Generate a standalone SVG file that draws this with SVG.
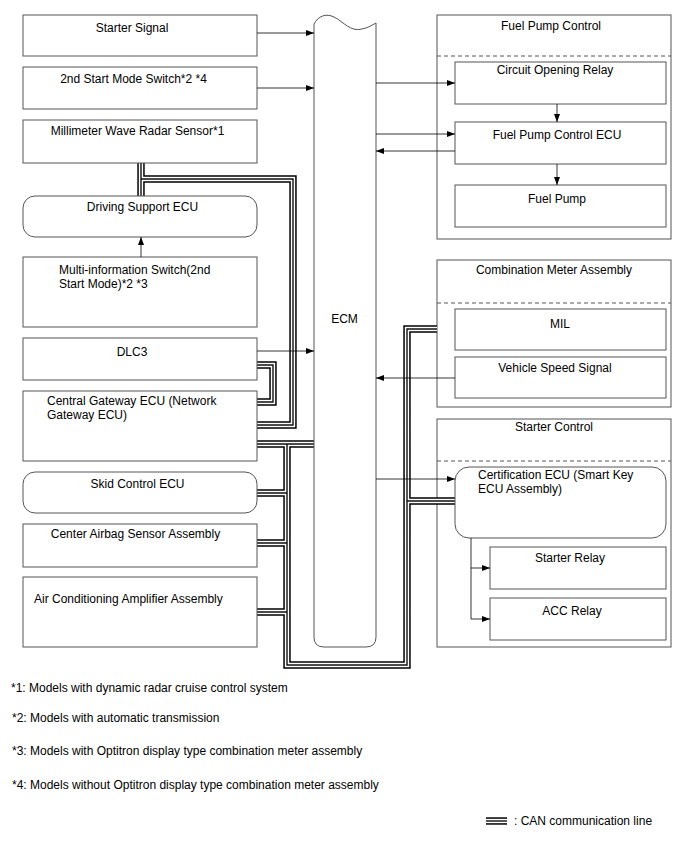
<svg xmlns="http://www.w3.org/2000/svg" width="688" height="852" viewBox="0 0 688 852">
<style>
  .box{fill:#fff;stroke:#555;stroke-width:1}
  .grp{fill:none;stroke:#555;stroke-width:1}
  .dash{fill:none;stroke:#555;stroke-width:1;stroke-dasharray:4,3}
  text{font-family:"Liberation Sans",Arial,sans-serif;font-size:12px;fill:#000}
  .c{text-anchor:middle}
  .note{font-size:12px}
  .arr{fill:none;stroke:#000;stroke-width:0.8;marker-end:url(#ah)}
  .ln{fill:none;stroke:#000;stroke-width:0.8}
  .can1{fill:none;stroke:#000;stroke-width:7.4;stroke-linejoin:miter}
  .can2{fill:none;stroke:#fff;stroke-width:4.4;stroke-linejoin:miter}
  .can3{fill:none;stroke:#111;stroke-width:1.4;stroke-linejoin:miter}
</style>
<defs>
  <marker id="ah" viewBox="0 0 8 6" refX="8" refY="3" markerWidth="8" markerHeight="6" markerUnits="userSpaceOnUse" orient="auto">
    <path d="M0,0 L8,3 L0,6 Z" fill="#000"/>
  </marker>
  <path id="canPaths" d="M141,163 V196 M141,179 H293 V425 H257 M257,365 H273 V402 H257 M257,444 H314 M287,444 V665 H407 V329 H437 M407,501 H455 M257,493 H287 M257,543 H287 M257,612 H287"/>
</defs>
<rect width="688" height="852" fill="#fff"/>

<!-- group containers -->
<g id="fuel-pump-control">
  <rect class="grp" x="437" y="15" width="234" height="224"/>
  <line class="dash" x1="437" y1="56" x2="671" y2="56"/>
  <text class="c" x="551" y="30">Fuel Pump Control</text>
</g>
<g id="combination-meter">
  <rect class="grp" x="437" y="260" width="234" height="147"/>
  <line class="dash" x1="437" y1="303" x2="671" y2="303"/>
  <text class="c" x="554" y="274">Combination Meter Assembly</text>
</g>
<g id="starter-control">
  <rect class="grp" x="437" y="419" width="234" height="228"/>
  <line class="dash" x1="437" y1="461" x2="671" y2="461"/>
  <text class="c" x="554" y="431">Starter Control</text>
</g>

<!-- CAN lines -->
<g id="can-lines">
  <use href="#canPaths" class="can1"/>
  <use href="#canPaths" class="can2"/>
  <use href="#canPaths" class="can3"/>
</g>

<!-- left nodes -->
<g id="starter-signal">
  <rect class="box" x="23" y="15" width="234" height="41"/>
  <text class="c" x="132" y="32">Starter Signal</text>
</g>
<g id="second-start-mode-switch">
  <rect class="box" x="23" y="67" width="234" height="42"/>
  <text class="c" x="133.5" y="83">2nd Start Mode Switch*2 *4</text>
</g>
<g id="millimeter-wave-radar">
  <rect class="box" x="23" y="120" width="234" height="43"/>
  <text class="c" x="137.5" y="135">Millimeter Wave Radar Sensor*1</text>
</g>
<g id="driving-support-ecu">
  <rect class="box" x="23" y="196" width="234" height="41" rx="12" ry="12"/>
  <text class="c" x="142.5" y="211">Driving Support ECU</text>
</g>
<g id="multi-information-switch">
  <rect class="box" x="23" y="257" width="234" height="70"/>
  <text x="59" y="274">Multi-information Switch(2nd</text>
  <text x="59" y="288">Start Mode)*2 *3</text>
</g>
<g id="dlc3">
  <rect class="box" x="23" y="338" width="234" height="42"/>
  <text class="c" x="132" y="356">DLC3</text>
</g>
<g id="central-gateway-ecu">
  <rect class="box" x="23" y="391" width="234" height="70"/>
  <text x="47" y="405">Central Gateway ECU (Network</text>
  <text x="47" y="419">Gateway ECU)</text>
</g>
<g id="skid-control-ecu">
  <rect class="box" x="23" y="472" width="234" height="41" rx="12" ry="12"/>
  <text class="c" x="137.5" y="488">Skid Control ECU</text>
</g>
<g id="center-airbag-sensor">
  <rect class="box" x="23" y="524" width="234" height="43"/>
  <text class="c" x="135.5" y="538">Center Airbag Sensor Assembly</text>
</g>
<g id="air-conditioning-amplifier">
  <rect class="box" x="23" y="577" width="234" height="70"/>
  <text x="34" y="603">Air Conditioning Amplifier Assembly</text>
</g>

<!-- ECM -->
<g id="ecm">
  <path class="box" d="M314,24 C318,16 326,13 334,17 C344,22 350,32 362,29 C368,28 372,25 376,23 L376,637 Q376,647 366,647 L324,647 Q314,647 314,637 Z"/>
  <text class="c" x="344.5" y="323">ECM</text>
</g>

<!-- right nodes -->
<g id="circuit-opening-relay">
  <rect class="box" x="455" y="62" width="211" height="42"/>
  <text class="c" x="555" y="74">Circuit Opening Relay</text>
</g>
<g id="fuel-pump-control-ecu">
  <rect class="box" x="455" y="122" width="211" height="42"/>
  <text class="c" x="557" y="139">Fuel Pump Control ECU</text>
</g>
<g id="fuel-pump">
  <rect class="box" x="455" y="185" width="211" height="42"/>
  <text class="c" x="557" y="203">Fuel Pump</text>
</g>
<g id="mil">
  <rect class="box" x="455" y="309" width="211" height="41"/>
  <text class="c" x="560" y="328">MIL</text>
</g>
<g id="vehicle-speed-signal">
  <rect class="box" x="455" y="357" width="211" height="41"/>
  <text class="c" x="555" y="372">Vehicle Speed Signal</text>
</g>
<g id="certification-ecu">
  <rect class="box" x="455" y="467" width="211" height="71" rx="14" ry="14"/>
  <text x="478" y="479">Certification ECU (Smart Key</text>
  <text x="478" y="493">ECU Assembly)</text>
</g>
<g id="starter-relay">
  <rect class="box" x="490" y="547" width="176" height="42"/>
  <text class="c" x="570" y="562">Starter Relay</text>
</g>
<g id="acc-relay">
  <rect class="box" x="490" y="598" width="176" height="42"/>
  <text class="c" x="572" y="615">ACC Relay</text>
</g>

<!-- signal connectors -->
<g id="connectors">
  <path class="arr" d="M257,33 H314"/>
  <path class="arr" d="M257,88 H314"/>
  <path class="arr" d="M257,351 H314"/>
  <path class="arr" d="M141,257 V237"/>
  <path class="arr" d="M376,83 H455"/>
  <path class="arr" d="M376,134 H455"/>
  <path class="arr" d="M455,151 H376"/>
  <path class="arr" d="M557,104 V122"/>
  <path class="arr" d="M557,164 V185"/>
  <path class="arr" d="M455,378 H376"/>
  <path class="arr" d="M376,479 H455"/>
  <path class="ln" d="M471,538 V619"/>
  <path class="arr" d="M471,568 H490"/>
  <path class="arr" d="M471,619 H490"/>
</g>

<!-- footnotes -->
<g id="notes">
  <text class="note" x="11" y="692">*1: Models with dynamic radar cruise control system</text>
  <text class="note" x="12" y="722">*2: Models with automatic transmission</text>
  <text class="note" x="12" y="755">*3: Models with Optitron display type combination meter assembly</text>
  <text class="note" x="12" y="789">*4: Models without Optitron display type combination meter assembly</text>
</g>
<g id="legend">
  <path class="can1" d="M486,821 H507"/>
  <path class="can2" d="M486,821 H507"/>
  <path class="can3" d="M486,821 H507"/>
  <text class="note" x="514" y="825">: CAN communication line</text>
</g>
</svg>
